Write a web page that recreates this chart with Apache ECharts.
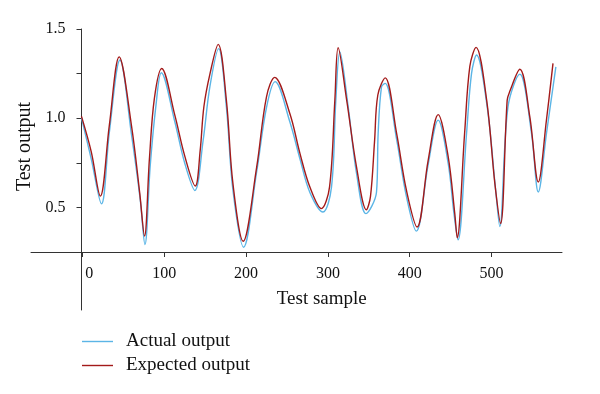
<!DOCTYPE html>
<html>
<head>
<meta charset="utf-8">
<script src="https://cdn.jsdelivr.net/npm/echarts@6/dist/echarts.min.js"></script>
<style>html,body{margin:0;padding:0;background:#fff}#c{width:600px;height:394px}</style>
</head>
<body>
<div id="c"></div>
<script>
const seriesNames = ['Actual output', 'Expected output'];
const actualX = [-1,11,23.4,33,46,60,70.6,76.5,83,90,96.5,113,125,137.5,147.6,155.8,166.5,176,184,197,213,225,235.5,253.5,266,278,294,304.4,309.7,314.6,324.8,335,346.5,359.4,361.4,365.5,370,384,396,408,422.5,434.7,447,454,459,469.4,475.5,481.6,494.6,505,510,520,534.5,548.8,557,567,578.5];
const actualY = [1.0,0.77,0.52,0.92,1.326,0.91,0.549,0.292,0.736,1.073,1.255,0.98,0.75,0.595,0.876,1.176,1.39,1.063,0.596,0.277,0.70,1.06,1.205,0.98,0.77,0.584,0.474,0.614,1.10,1.372,1.063,0.69,0.465,0.586,0.914,1.176,1.195,0.88,0.56,0.367,0.74,0.989,0.745,0.466,0.318,0.914,1.251,1.354,1.063,0.595,0.393,1.063,1.247,0.914,0.586,0.914,1.288];
const expectedX = [-1,11,22,33,45,60,70,76,82,88,97,113,125,138,144,148.5,156,166,176,184,196.5,213,225,235,253.5,266,278,292,302,308.5,312.5,323,335,347,352,357,361,370,384,396,409,422.5,434.7,447,455,458,467,473.4,481,494,504,511,519,522,534.5,546.7,557,567,575];
const expectedY = [1.01,0.81,0.563,0.96,1.344,0.96,0.586,0.339,0.774,1.11,1.279,1.017,0.79,0.62,0.82,1.064,1.25,1.414,1.10,0.633,0.31,0.726,1.12,1.229,1.026,0.80,0.614,0.493,0.614,1.10,1.395,1.10,0.726,0.487,0.56,0.87,1.13,1.226,0.914,0.595,0.39,0.764,1.02,0.783,0.465,0.33,0.914,1.29,1.397,1.10,0.633,0.41,1.10,1.148,1.274,1.007,0.642,0.99,1.307];
const xTicks = [0,100,200,300,400,500];
const yTicks = [0.5,0.75,1.0,1.25,1.5];
const yLabels = [0.5,1.0,1.5];
const xRange = [-1, 586];
const yRange = [0.25, 1.5];

const pair = (xs, ys) => xs.map((x, i) => [x, ys[i]]);
const FONT = 'Liberation Serif';
const axisCol = '#333';
const blue = '#5bb5e6';
const red = '#a31a1a';
const noBounds = {outerBoundsMode: 'none', containLabel: false};
const bareLine = {show: true, onZero: false, lineStyle: {color: axisCol, width: 1}};

const chart = echarts.init(document.getElementById('c'), null, {renderer: 'canvas'});
chart.setOption({
  animation: false,
  backgroundColor: '#fff',
  textStyle: {fontFamily: FONT},
  grid: [
    Object.assign({left: 81.5, width: 480.5, top: 29, height: 223}, noBounds),
    Object.assign({left: 31, width: 50.5, top: 29, height: 223}, noBounds),
    Object.assign({left: 81.5, width: 40, top: 252, height: 58}, noBounds)
  ],
  legend: {
    orient: 'vertical',
    left: 82, top: 332, padding: 0,
    itemWidth: 31, itemHeight: 14, itemGap: 5,
    data: [
      {name: seriesNames[0], icon: 'path://M0,0 L31,0 L31,1.4 L0,1.4 Z', itemStyle: {color: blue}},
      {name: seriesNames[1], icon: 'path://M0,0 L31,0 L31,1.4 L0,1.4 Z', itemStyle: {color: red}}
    ],
    textStyle: {fontFamily: FONT, fontSize: 19, color: '#111', padding: [0, 0, 0, 8]}
  },
  xAxis: [
    {
      gridIndex: 0, type: 'value', min: xRange[0], max: xRange[1],
      name: 'Test sample', nameLocation: 'middle', nameGap: 38,
      nameTextStyle: {fontFamily: FONT, fontSize: 19, color: '#111'},
      axisLine: bareLine,
      axisTick: {show: true, inside: false, length: 5, customValues: xTicks, lineStyle: {color: axisCol}},
      axisLabel: {
        customValues: xTicks, margin: 14, fontFamily: FONT, fontSize: 16, color: '#111',
        formatter: v => v === 0 ? '{z|0}' : String(v),
        rich: {z: {fontFamily: FONT, fontSize: 16, color: '#111', padding: [0, 0, 0, 14]}}
      },
      splitLine: {show: false}
    },
    {gridIndex: 1, type: 'value', min: 0, max: 1, axisLine: bareLine,
      axisTick: {show: false}, axisLabel: {show: false}, splitLine: {show: false}},
    {gridIndex: 2, type: 'value', min: 0, max: 1, show: false}
  ],
  yAxis: [
    {
      gridIndex: 0, type: 'value', min: yRange[0], max: yRange[1],
      name: 'Test output', nameLocation: 'middle', nameGap: 42, nameRotate: 90,
      nameTextStyle: {fontFamily: FONT, fontSize: 20, color: '#111', padding: [0, 12, 0, 0]},
      axisLine: bareLine,
      axisTick: {show: true, inside: false, length: 5, customValues: yTicks, lineStyle: {color: axisCol}},
      axisLabel: {
        customValues: yLabels, margin: 16, fontFamily: FONT, fontSize: 16, color: '#111',
        formatter: v => v.toFixed(1)
      },
      splitLine: {show: false}
    },
    {gridIndex: 1, type: 'value', min: 0, max: 1, show: false},
    {gridIndex: 2, type: 'value', min: 0, max: 1, axisLine: bareLine,
      axisTick: {show: false}, axisLabel: {show: false}, splitLine: {show: false}}
  ],
  series: [
    {
      name: seriesNames[0], type: 'line', xAxisIndex: 0, yAxisIndex: 0,
      data: pair(actualX, actualY), smooth: 0.35, showSymbol: false, symbol: 'none',
      lineStyle: {color: blue, width: 1.4}, itemStyle: {color: blue}
    },
    {
      name: seriesNames[1], type: 'line', xAxisIndex: 0, yAxisIndex: 0,
      data: pair(expectedX, expectedY), smooth: 0.35, showSymbol: false, symbol: 'none',
      lineStyle: {color: red, width: 1.4}, itemStyle: {color: red}
    }
  ]
});
</script>
</body>
</html>
